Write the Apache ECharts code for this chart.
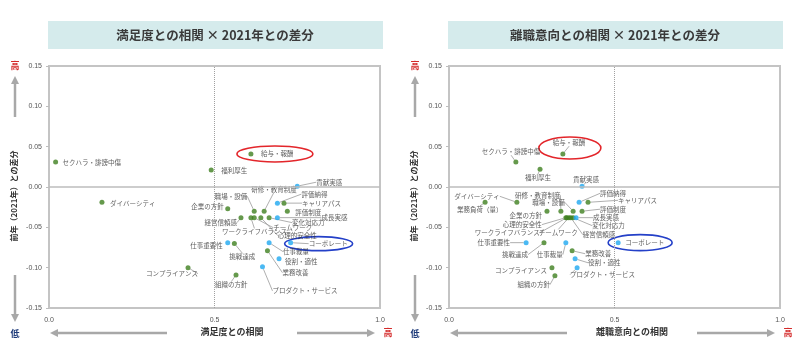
<!DOCTYPE html>
<html><head><meta charset="utf-8">
<script src="https://cdn.jsdelivr.net/npm/echarts@6/dist/echarts.min.js"></script>
<style>html,body{margin:0;padding:0;background:#fff}#c{width:800px;height:358px}</style>
</head><body><div id="c"></div>
<script>
// ---------- DATA ----------
const titles = ['満足度との相関 × 2021年との差分', '離職意向との相関 × 2021年との差分'];
const xAxisNames = ['満足度との相関', '離職意向との相関'];
const yAxisName = '前年（2021年）との差分';
const highLabel = '高';
const lowLabel = '低';

// Left chart: correlation with satisfaction (x) vs difference from 2021 (y)
const satNames = ['セクハラ・誹謗中傷','ダイバーシティ','給与・報酬','福利厚生','貢献実感','評価納得','キャリアパス','研修・教育制度','職場・設備','企業の方針','評価制度','経営信頼感','ワークライフバランス','チームワーク','心理的安全性','変化対応力','成長実感','コーポレート','仕事重要性','挑戦達成','仕事裁量','業務改善','役割・適性','プロダクト・サービス','組織の方針','コンプライアンス'];
const satX = [0.02,0.16,0.61,0.49,0.75,0.69,0.71,0.65,0.62,0.54,0.72,0.58,0.61,0.62,0.64,0.665,0.69,0.73,0.54,0.56,0.665,0.66,0.695,0.645,0.565,0.42];
const satY = [0.031,-0.019,0.041,0.021,0.001,-0.020,-0.020,-0.030,-0.030,-0.027,-0.030,-0.038,-0.038,-0.038,-0.038,-0.038,-0.038,-0.069,-0.069,-0.070,-0.069,-0.079,-0.089,-0.099,-0.109,-0.100];
const satGroup = ['A','A','A','A','B','B','A','A','A','A','A','A','A','A','A','A','B','B','B','A','B','A','B','B','A','A'];

// Right chart: correlation with intention to leave (x) vs difference from 2021 (y)
const quitNames = ['セクハラ・誹謗中傷','ダイバーシティ','給与・報酬','福利厚生','貢献実感','評価納得','キャリアパス','研修・教育制度','職場・設備','企業の方針','評価制度','心理的安全性','ワークライフバランス','チームワーク','経営信頼感','変化対応力','成長実感','仕事重要性','挑戦達成','仕事裁量','業務改善','役割・適性','プロダクト・サービス','コンプライアンス','組織の方針','コーポレート','業務負荷（量）'];
const quitX = [0.202,0.205,0.344,0.275,0.402,0.393,0.420,0.338,0.375,0.296,0.402,0.353,0.356,0.362,0.368,0.375,0.384,0.233,0.287,0.353,0.372,0.381,0.387,0.311,0.320,0.511,0.109];
const quitY = [0.031,-0.019,0.041,0.022,0.001,-0.019,-0.019,-0.030,-0.030,-0.030,-0.030,-0.038,-0.038,-0.038,-0.038,-0.038,-0.038,-0.069,-0.069,-0.069,-0.079,-0.089,-0.100,-0.100,-0.110,-0.069,-0.019];
const quitGroup = ['A','A','A','A','B','B','A','A','A','A','A','A','A','A','A','A','B','B','A','B','A','B','B','A','A','B','A'];

const highlightRed = '給与・報酬';
const highlightBlue = 'コーポレート';

// ---------- LAYOUT (label placement: [edge offset px, dy px, side]) ----------
const satLabelLayout = [[7,1,'r'],[8,1,'r'],[10,0,'r'],[10,0,'r'],[19,-4,'r'],[24,-9,'r'],[18,0,'r'],[-13,-22,'r'],[-7,-15,'l'],[-4,-2,'l'],[8,1,'r'],[-4,5,'l'],[-29,14,'r'],[19,10,'r'],[17,18,'r'],[23,5,'r'],[44,0,'r'],[18,1,'r'],[-5,3,'l'],[-5,13,'r'],[14,9,'r'],[15,22,'r'],[6,3,'r'],[10,24,'r'],[-21,10,'r'],[10,6,'l']];
const quitLabelLayout = [[-34,-10,'r'],[-17,-6,'l'],[-10,-11,'r'],[-15,8,'r'],[-9,-7,'r'],[21,-9,'r'],[30,-2,'r'],[-46,-16,'r'],[-41,-9,'r'],[-5,4,'l'],[18,-2,'r'],[-24,7,'l'],[-27,15,'l'],[-30,15,'r'],[12,17,'r'],[19,8,'r'],[17,0,'r'],[-16,0,'l'],[-16,12,'l'],[-3,12,'l'],[13,3,'r'],[13,4,'r'],[-7,7,'r'],[-5,3,'l'],[-5,9,'l'],[7,0,'r'],[-28,7,'r']];

const groupColor = {A:'#3f7f1f', B:'#1ea8f0'};
const FONT = '"Noto Sans CJK JP", "Noto Sans", sans-serif';
const grids = [{left:49, top:66, width:331, height:242},{left:449, top:66, width:331, height:242}];

function needsLine(l){
  return Math.abs(l[1]) >= 5 || (l[2]==='r' && l[0] >= 12) || (l[2]==='l' && l[0] <= -10);
}

function buildSeries(idx, names, xs, ys, groups, layout){
  const data = names.map((n,i)=>({
    name:n, value:[xs[i], ys[i]],
    itemStyle:{color:groupColor[groups[i]]},
    label:{position: layout[i][2]==='l' ? 'left':'right', distance:2},
    labelLine:{show: needsLine(layout[i])}
  }));
  return {
    type:'scatter', xAxisIndex:idx, yAxisIndex:idx, symbolSize:5, data,
    label:{show:true, formatter:'{b}', fontSize:6.5, color:'#333', fontFamily:FONT},
    labelLine:{show:true, lineStyle:{color:'#9a9a9a', width:0.8}},
    labelLayout:function(p){
      const l = layout[p.dataIndex];
      return {dx: l[2]==='r' ? l[0]-4.5 : l[0]+4.5, dy: l[1]};
    },
    emphasis:{disabled:true},
    markLine:{silent:true, symbol:'none', label:{show:false},
      data:[{yAxis:0, lineStyle:{type:'solid', color:'#bdbdbd', width:1.6}},
            {xAxis:0.5, lineStyle:{type:'dotted', color:'#a0a0a0', width:1}}]}
  };
}

function xAx(i){return {gridIndex:i, type:'value', min:0, max:1, interval:0.5,
  axisLine:{show:false}, axisTick:{show:false}, splitLine:{show:false},
  axisLabel:{fontSize:7, color:'#555', margin:9, fontFamily:'"Liberation Sans", sans-serif', formatter:v=>v.toFixed(1)}};}
function yAx(i){return {gridIndex:i, type:'value', min:-0.15, max:0.15, interval:0.05,
  axisLine:{show:false}, axisTick:{show:true, length:3, lineStyle:{color:'#bdbdbd'}}, splitLine:{show:false},
  axisLabel:{fontSize:7, color:'#555', margin:7, fontFamily:'"Liberation Sans", sans-serif', formatter:v=>v.toFixed(2)}};}

const chart = echarts.init(document.getElementById('c'), null, {renderer:'canvas'});
chart.setOption({
  animation:false,
  textStyle:{fontFamily:FONT},
  grid: grids.map(g=>Object.assign({show:true, borderColor:'#c4c4c4', borderWidth:2, backgroundColor:'transparent'}, g)),
  xAxis:[xAx(0), xAx(1)],
  yAxis:[yAx(0), yAx(1)],
  series:[buildSeries(0, satNames, satX, satY, satGroup, satLabelLayout),
          buildSeries(1, quitNames, quitX, quitY, quitGroup, quitLabelLayout)]
});

// ---------- decorations ----------
function decor(){
  const g = [];
  const arrowColor = '#a8a8a8';
  [0,1].forEach(i=>{
    const ox = i*400;
    g.push({type:'rect', shape:{x:48+ox, y:21, width:335, height:28}, style:{fill:'#d5ebec'}, silent:true});
    g.push({type:'text', x:215+ox, y:35, style:{text:titles[i], fill:'#3a3a3a', font:'bold 12.5px '+FONT, align:'center', verticalAlign:'middle'}});
    g.push({type:'text', x:15+ox, y:66, style:{text:highLabel, fill:'#d42a2a', font:'bold 9px '+FONT, align:'center', verticalAlign:'middle'}});
    g.push({type:'line', shape:{x1:15+ox, y1:117, x2:15+ox, y2:82}, style:{stroke:arrowColor, lineWidth:2.5}});
    g.push({type:'polygon', shape:{points:[[15+ox,76],[11+ox,84],[19+ox,84]]}, style:{fill:arrowColor}});
    g.push({type:'text', x:14+ox, y:196, rotation:Math.PI/2, style:{text:yAxisName, fill:'#333', font:'bold 8px '+FONT, align:'center', verticalAlign:'middle'}});
    g.push({type:'line', shape:{x1:15+ox, y1:275, x2:15+ox, y2:315}, style:{stroke:arrowColor, lineWidth:2.5}});
    g.push({type:'polygon', shape:{points:[[15+ox,322],[11+ox,314],[19+ox,314]]}, style:{fill:arrowColor}});
    g.push({type:'text', x:15+ox, y:334, style:{text:lowLabel, fill:'#1f3b7a', font:'bold 9px '+FONT, align:'center', verticalAlign:'middle'}});
    g.push({type:'line', shape:{x1:167+ox, y1:333, x2:57+ox, y2:333}, style:{stroke:arrowColor, lineWidth:2.5}});
    g.push({type:'polygon', shape:{points:[[50+ox,333],[58+ox,329],[58+ox,337]]}, style:{fill:arrowColor}});
    g.push({type:'text', x:232+ox, y:332, style:{text:xAxisNames[i], fill:'#333', font:'bold 9px '+FONT, align:'center', verticalAlign:'middle'}});
    g.push({type:'line', shape:{x1:297+ox, y1:333, x2:368+ox, y2:333}, style:{stroke:arrowColor, lineWidth:2.5}});
    g.push({type:'polygon', shape:{points:[[375+ox,333],[367+ox,329],[367+ox,337]]}, style:{fill:arrowColor}});
    g.push({type:'text', x:388+ox, y:333, style:{text:highLabel, fill:'#d42a2a', font:'bold 9px '+FONT, align:'center', verticalAlign:'middle'}});
  });
  const ell = (grid, names, xs, ys, name, dx, dy, rx, ry, color)=>{
    const k = names.indexOf(name);
    const p = chart.convertToPixel({gridIndex:grid}, [xs[k], ys[k]]);
    g.push({type:'ellipse', shape:{cx:p[0]+dx, cy:p[1]+dy, rx, ry}, style:{fill:'none', stroke:color, lineWidth:1.6}, silent:true});
  };
  ell(0, satNames, satX, satY, highlightRed, 24, 0, 38, 8, '#e3262b');
  ell(0, satNames, satX, satY, highlightBlue, 28, 1, 34, 7, '#2440c8');
  ell(1, quitNames, quitX, quitY, highlightRed, 7, -6, 31, 11, '#e3262b');
  ell(1, quitNames, quitX, quitY, highlightBlue, 22, 0, 32, 8, '#2440c8');
  chart.setOption({graphic:g});
}
decor();
</script></body></html>
